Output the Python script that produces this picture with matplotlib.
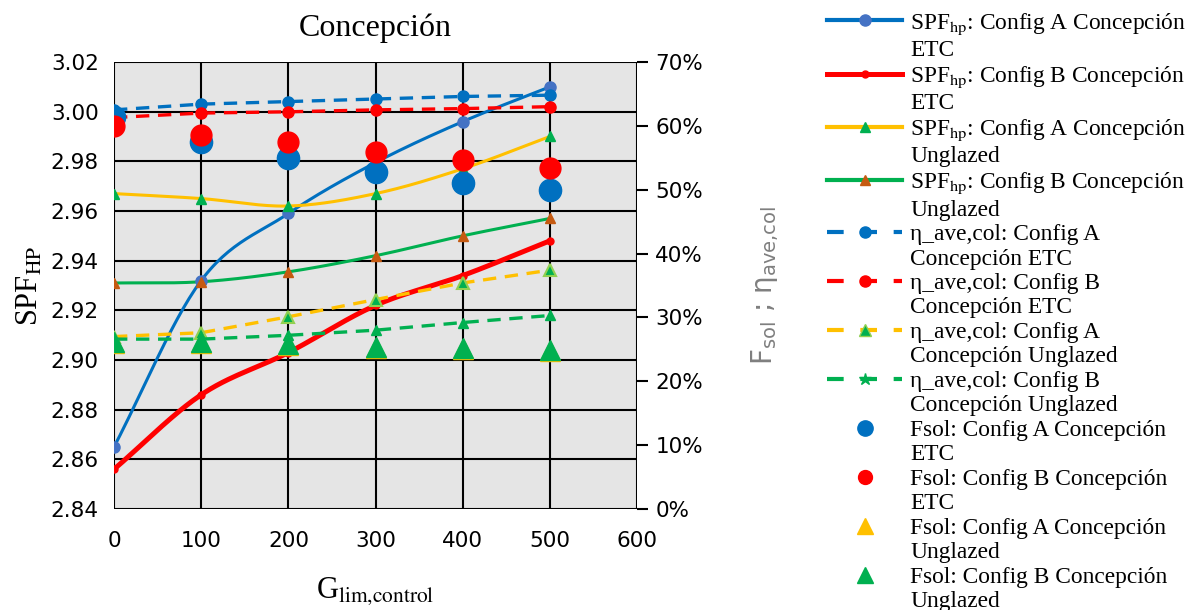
import numpy as np
import matplotlib
matplotlib.use("Agg")
import matplotlib.pyplot as plt
from matplotlib.lines import Line2D
from matplotlib.ticker import PercentFormatter, MultipleLocator

plt.rcParams['font.family'] = ['Liberation Serif', 'DejaVu Serif']
plt.rcParams['mathtext.fontset'] = 'stix'

# G_lim,control
g_lim = [0, 100, 200, 300, 400, 500]

# SPF_hp (left axis)
spf_a_etc = [2.865, 2.932, 2.959, 2.9795, 2.996, 3.010]
spf_b_etc = [2.856, 2.886, 2.903, 2.922, 2.934, 2.948]
spf_a_ung = [2.967, 2.965, 2.962, 2.967, 2.977, 2.990]
spf_b_ung = [2.931, 2.9315, 2.9355, 2.942, 2.950, 2.957]

# eta_ave,col (right axis, fraction)
eta_a_etc = [0.625, 0.634, 0.638, 0.642, 0.646, 0.648]
eta_b_etc = [0.613, 0.620, 0.622, 0.625, 0.627, 0.630]
eta_a_ung = [0.270, 0.276, 0.301, 0.328, 0.354, 0.374]
eta_b_ung = [0.266, 0.266, 0.272, 0.280, 0.292, 0.303]

# Fsol (right axis, fraction)
fsol_a_etc = [0.614, 0.575, 0.549, 0.528, 0.511, 0.500]
fsol_b_etc = [0.600, 0.586, 0.574, 0.559, 0.547, 0.534]
fsol_a_ung = [0.260, 0.260, 0.257, 0.252, 0.250, 0.247]
fsol_b_ung = [0.262, 0.262, 0.259, 0.254, 0.252, 0.249]

legend_labels = [
    ("SPF$_{\\mathrm{hp}}$: Config A Concepción", "ETC"),
    ("SPF$_{\\mathrm{hp}}$: Config B Concepción", "ETC"),
    ("SPF$_{\\mathrm{hp}}$: Config A Concepción", "Unglazed"),
    ("SPF$_{\\mathrm{hp}}$: Config B Concepción", "Unglazed"),
    ("η_ave,col: Config A", "Concepción ETC"),
    ("η_ave,col: Config B", "Concepción ETC"),
    ("η_ave,col: Config A", "Concepción Unglazed"),
    ("η_ave,col: Config B", "Concepción Unglazed"),
    ("Fsol: Config A Concepción", "ETC"),
    ("Fsol: Config B Concepción", "ETC"),
    ("Fsol: Config A Concepción", "Unglazed"),
    ("Fsol: Config B Concepción", "Unglazed"),
]

BLUE = '#0070C0'
RED = '#FF0000'
YELLOW = '#FFC000'
GREEN = '#00B050'
ORANGE = '#C55A11'
LBLUE = '#4472C4'
LGREEN = '#92D050'


def smooth(x, y, n=30):
    # Catmull-Rom style smoothing like spreadsheet "smoothed line"
    x = np.asarray(x, float)
    y = np.asarray(y, float)
    px = np.concatenate([[2 * x[0] - x[1]], x, [2 * x[-1] - x[-2]]])
    py = np.concatenate([[2 * y[0] - y[1]], y, [2 * y[-1] - y[-2]]])
    xs, ys = [], []
    t = np.linspace(0, 1, n)
    for i in range(1, len(px) - 2):
        for p, out in ((px, xs), (py, ys)):
            p0, p1, p2, p3 = p[i - 1], p[i], p[i + 1], p[i + 2]
            out.extend(0.5 * ((2 * p1) + (-p0 + p2) * t
                              + (2 * p0 - 5 * p1 + 4 * p2 - p3) * t ** 2
                              + (-p0 + 3 * p1 - 3 * p2 + p3) * t ** 3))
    return np.array(xs), np.array(ys)


fig = plt.figure(figsize=(11.89, 6.10), dpi=100)
ax = fig.add_axes([0.0959, 0.1656, 0.44, 0.7328])
ax.set_facecolor('#E5E5E5')
ax.set_xlim(0, 600)
ax.set_ylim(2.84, 3.02)
ax.xaxis.set_major_locator(MultipleLocator(100))
ax.yaxis.set_major_locator(MultipleLocator(0.02))
ax.grid(True, color='black', linewidth=1.5)
ax.set_axisbelow(True)
for s in ax.spines.values():
    s.set_visible(False)
ax.tick_params(length=0, labelsize=15.5)
ax.tick_params(axis='x', pad=16)
ax.tick_params(axis='y', pad=11)
for lab in ax.get_xticklabels() + ax.get_yticklabels():
    lab.set_family('DejaVu Sans')
ax.yaxis.set_major_formatter(matplotlib.ticker.FormatStrFormatter('%.2f'))

# SPF lines
for yv, lc, lw, mk, mc, ms in [
    (spf_a_etc, BLUE, 2.2, 'o', LBLUE, 8),
    (spf_b_etc, RED, 3.6, 'o', RED, 5),
    (spf_a_ung, YELLOW, 2.2, '^', GREEN, 7),
    (spf_b_ung, GREEN, 2.2, '^', ORANGE, 7),
]:
    sx, sy = smooth(g_lim, yv)
    ax.plot(sx, sy, color=lc, lw=lw, solid_capstyle='round', zorder=3)
    ax.plot(g_lim, yv, linestyle='none', marker=mk, color=mc, ms=ms, zorder=4)

ax2 = ax.twinx()
ax2.set_ylim(0, 0.70)
ax2.yaxis.set_major_locator(MultipleLocator(0.10))
ax2.yaxis.set_major_formatter(PercentFormatter(1.0, decimals=0))
for s in ax2.spines.values():
    s.set_visible(False)
ax2.tick_params(axis='y', length=8, width=1.5, labelsize=15.5, pad=5, direction='out')
for lab in ax2.get_yticklabels():
    lab.set_family('DejaVu Sans')

dash = (0, (4, 2.6))
ax2.plot(g_lim, eta_a_etc, color=BLUE, lw=2.4, ls=dash, marker='o', ms=8, zorder=3)
ax2.plot(g_lim, eta_b_etc, color=RED, lw=2.4, ls=dash, marker='o', ms=8, zorder=3)
ax2.plot(g_lim, eta_a_ung, color=YELLOW, lw=2.4, ls=dash, marker='^', ms=8,
         mfc=GREEN, mec=LGREEN, mew=1.5, zorder=3)
ax2.plot(g_lim, eta_b_ung, color=GREEN, lw=2.4, ls=dash, marker='^', ms=7, zorder=3)

ax2.plot(g_lim, fsol_a_etc, ls='none', marker='o', ms=16, color=BLUE, zorder=5)
ax2.plot(g_lim, fsol_b_etc, ls='none', marker='o', ms=15, color=RED, zorder=6)
ax2.plot(g_lim, fsol_a_ung, ls='none', marker='^', ms=15, color=YELLOW, zorder=5)
ax2.plot(g_lim, fsol_b_ung, ls='none', marker='^', ms=15, color=GREEN, zorder=6)

ax.set_title('Concepción', fontsize=23, pad=19)
ax.set_xlabel('G$_{\\mathrm{lim{,}control}}$', fontsize=22, labelpad=17)
ax.set_ylabel('SPF$_{\\mathrm{HP}}$', fontsize=22, labelpad=4)
ax2.set_ylabel('F$_{\\mathrm{sol}}$ ; η$_{\\mathrm{ave{,}col}}$', fontsize=20,
               color='#7F7F7F', family='DejaVu Sans', math_fontfamily='dejavusans',
               labelpad=33)

# legend
handles = [
    Line2D([], [], color=BLUE, lw=3, marker='o', mfc=LBLUE, mec=LBLUE, ms=8),
    Line2D([], [], color=RED, lw=3.6, marker='o', ms=5),
    Line2D([], [], color=YELLOW, lw=3, marker='^', mfc=GREEN, mec=GREEN, ms=7),
    Line2D([], [], color=GREEN, lw=3, marker='^', mfc=ORANGE, mec=ORANGE, ms=7),
    Line2D([], [], color=BLUE, lw=3, ls=(0, (4, 4)), marker='o', ms=8),
    Line2D([], [], color=RED, lw=3, ls=(0, (4, 4)), marker='o', ms=8),
    Line2D([], [], color=YELLOW, lw=3, ls=(0, (4, 4)), marker='^', mfc=GREEN, mec=LGREEN, ms=8),
    Line2D([], [], color=GREEN, lw=3, ls=(0, (4, 4)), marker='*', ms=9),
    Line2D([], [], ls='none', marker='o', color=BLUE, ms=11),
    Line2D([], [], ls='none', marker='o', color=RED, ms=10),
    Line2D([], [], ls='none', marker='^', color=YELLOW, ms=11),
    Line2D([], [], ls='none', marker='^', color=GREEN, ms=11),
]
blank = Line2D([], [], ls='none')
all_h, all_l = [], []
for h, (l1, l2) in zip(handles, legend_labels):
    all_h += [h, blank]
    all_l += [l1, l2]
fig.legend(all_h, all_l, loc='upper left', bbox_to_anchor=(0.688, 0.997),
           frameon=False, fontsize=16.8, handlelength=3.2, handletextpad=0.36,
           labelspacing=0.135, borderaxespad=0)

fig.savefig('out.png', dpi=100)
